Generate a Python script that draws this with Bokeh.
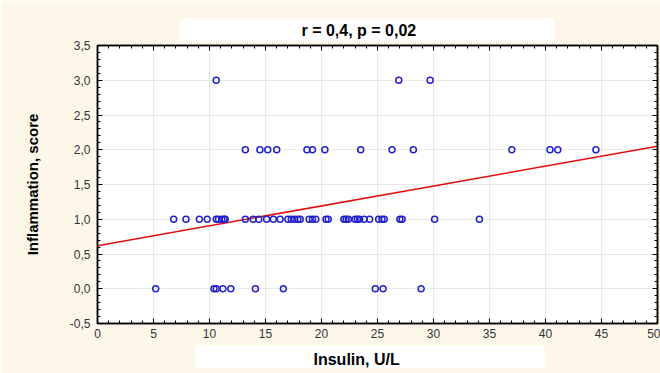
from bokeh.plotting import figure
from bokeh.models import LinearAxis, FixedTicker, Title, Range1d, CustomLabelingPolicy
from bokeh.embed import file_html
from bokeh.resources import INLINE

# ---- data ----
x_level3 = [10.6, 26.9, 29.7]
x_level2 = [13.2, 14.5, 15.2, 16.0, 18.7, 19.2, 20.3, 23.5, 26.3, 28.2, 37.0, 40.4, 41.1, 44.5]
x_level1 = [6.8, 7.9, 9.1, 9.8, 10.6, 10.8, 11.1, 11.3, 11.4, 13.2, 13.9, 14.4, 15.1, 15.7,
            16.3, 17.0, 17.3, 17.6, 17.9, 18.1, 18.9, 19.2, 19.5, 20.4, 20.6, 22.0, 22.2,
            22.4, 23.0, 23.2, 23.4, 23.8, 24.3, 25.1, 25.4, 25.6, 27.0, 27.2, 30.1, 34.1]
x_level0 = [5.2, 10.4, 10.6, 11.2, 11.9, 14.1, 16.6, 24.8, 25.5, 28.9]

insulin = x_level3 + x_level2 + x_level1 + x_level0
score = [3.0] * len(x_level3) + [2.0] * len(x_level2) + [1.0] * len(x_level1) + [0.0] * len(x_level0)

fit_x = [0, 50]
fit_y = [0.62, 2.05]

x_ticks = [0, 5, 10, 15, 20, 25, 30, 35, 40, 45, 50]
x_tick_labels = ["0", "5", "10", "15", "20", "25", "30", "35", "40", "45", "50"]
y_ticks = [-0.5, 0.0, 0.5, 1.0, 1.5, 2.0, 2.5, 3.0, 3.5]
y_tick_labels = ["-0,5", "0,0", "0,5", "1,0", "1,5", "2,0", "2,5", "3,0", "3,5"]
x_minor = [i for i in range(0, 51)]
y_minor = [round(-0.5 + 0.1 * i, 2) for i in range(0, 41)]

title_text = "r = 0,4, p = 0,02"
x_label = "Insulin, U/L"
y_label = "Inflammation, score"

FONT = "Liberation Sans"

p = figure(width=660, height=373, x_range=Range1d(0, 50), y_range=Range1d(-0.5, 3.5),
           output_backend="svg", toolbar_location=None,
           min_border_left=97, min_border_right=3, min_border_top=45, min_border_bottom=50)
p.border_fill_color = "#fdf7ea"
p.background_fill_color = "white"
p.outline_line_color = "black"
p.outline_line_width = 1.5

xt = FixedTicker(ticks=x_ticks, minor_ticks=x_minor)
yt = FixedTicker(ticks=y_ticks, minor_ticks=y_minor)

hide_all = CustomLabelingPolicy(code="for (const i of indices) { indices.unset(i) } return indices")

def style_axis(ax, labels):
    ax.axis_line_color = "black"
    ax.axis_line_width = 1.5
    ax.major_tick_in = 5
    ax.major_tick_out = 0
    ax.minor_tick_in = 3
    ax.minor_tick_out = 0
    ax.major_tick_line_color = "black"
    ax.minor_tick_line_color = "black"
    ax.major_label_text_font = FONT
    ax.major_label_text_font_size = "12px"
    ax.major_label_text_color = "#333333"
    if not labels:
        ax.major_label_policy = hide_all
        ax.major_label_text_font_size = "0px"
        ax.major_label_standoff = 0

p.xaxis.ticker = xt
p.yaxis.ticker = yt
p.xaxis.major_label_overrides = {t: l for t, l in zip(x_ticks, x_tick_labels)}
p.yaxis.major_label_overrides = {t: l for t, l in zip(y_ticks, y_tick_labels)}
style_axis(p.xaxis[0], True)
style_axis(p.yaxis[0], True)
p.xaxis.major_label_standoff = 5
p.yaxis.major_label_standoff = 7

p.yaxis.axis_label = y_label
p.yaxis.axis_label_text_font = FONT
p.yaxis.axis_label_text_font_style = "bold"
p.yaxis.axis_label_text_font_size = "15px"
p.yaxis.axis_label_text_color = "black"
p.yaxis.axis_label_standoff = 26

top_ax = LinearAxis(ticker=FixedTicker(ticks=x_ticks, minor_ticks=x_minor))
right_ax = LinearAxis(ticker=FixedTicker(ticks=y_ticks, minor_ticks=y_minor))
style_axis(top_ax, False)
style_axis(right_ax, False)
p.add_layout(top_ax, "above")
p.add_layout(right_ax, "right")

p.xgrid.ticker = xt
p.ygrid.ticker = yt
p.grid.grid_line_color = "#d2d2d2"
p.grid.grid_line_dash = "1 1"
p.grid.grid_line_width = 1

p.title = Title(text=title_text, text_font=FONT, text_font_size="16px", text_font_style="bold",
                text_color="black", align="left", offset=83, standoff=8,
                background_fill_color="white",
                padding=dict(left=121, right=138, top=3, bottom=3))

xl = Title(text=x_label, text_font=FONT, text_font_size="16px", text_font_style="bold",
           text_color="black", align="left", offset=98, standoff=7,
           background_fill_color="white",
           padding=dict(left=118, right=145, top=5, bottom=0))
p.add_layout(xl, "below")

p.line(fit_x, fit_y, line_color="#e01010", line_width=1.5)
p.scatter(insulin, score, marker="circle", size=6, fill_color=None,
          line_color="#2222cc", line_width=1.5)

open("out.html", "w").write(file_html(p, INLINE))
